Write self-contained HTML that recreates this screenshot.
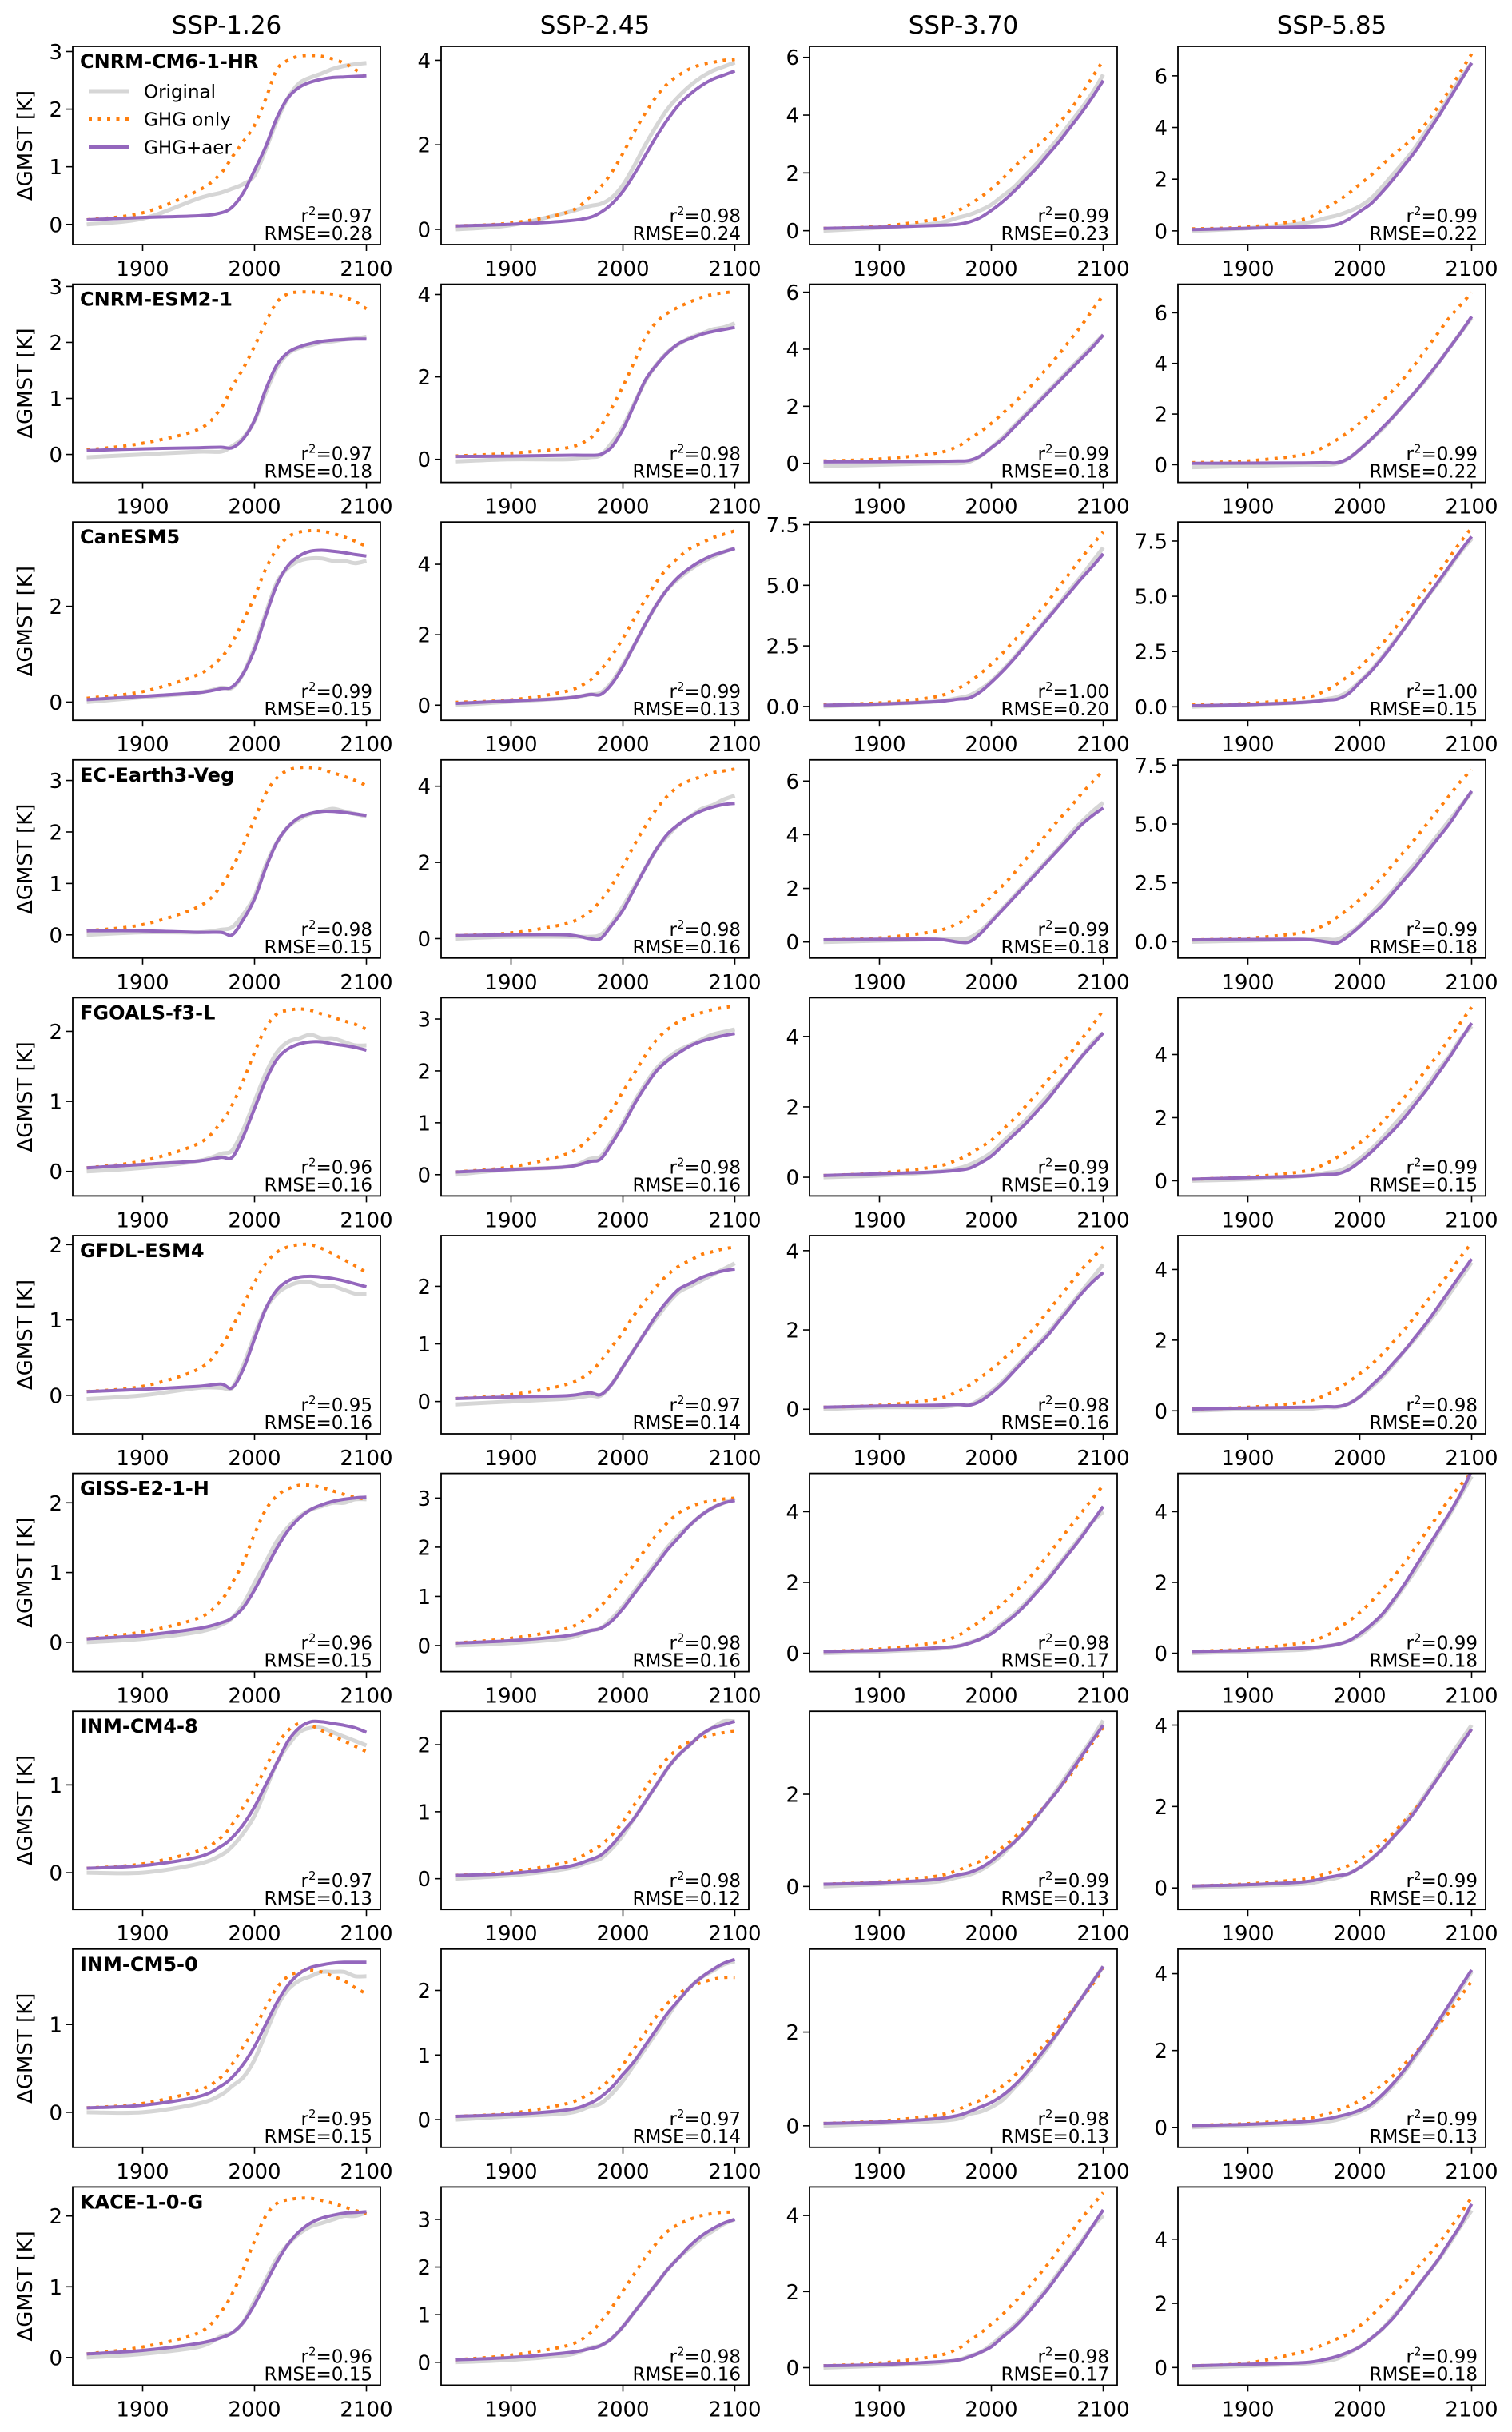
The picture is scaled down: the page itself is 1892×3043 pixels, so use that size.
<!DOCTYPE html>
<html><head><meta charset="utf-8"><title>GMST emulator panels</title>
<style>
html,body{margin:0;padding:0;background:#fff;}
svg{display:block;font-family:"DejaVu Sans","Liberation Sans",sans-serif;}
</style></head>
<body>
<svg id="chart" width="1892" height="3043" viewBox="0 0 1892 3043" xmlns="http://www.w3.org/2000/svg"></svg>
<script>
const models = ["CNRM-CM6-1-HR","CNRM-ESM2-1","CanESM5","EC-Earth3-Veg","FGOALS-f3-L","GFDL-ESM4","GISS-E2-1-H","INM-CM4-8","INM-CM5-0","KACE-1-0-G"];
const scenarios = ["SSP-1.26","SSP-2.45","SSP-3.70","SSP-5.85"];
const years = [1850,1900,1950,1970,1980,1990,2000,2010,2020,2030,2040,2050,2060,2070,2080,2090,2100];
const xTicks = [1900,2000,2100];
const yTicks = [
 ["0","1","2","3"],["0","2","4"],["0","2","4","6"],["0","2","4","6"],
 ["0","1","2","3"],["0","2","4"],["0","2","4","6"],["0","2","4","6"],
 ["0","2"],["0","2","4"],["0.0","2.5","5.0","7.5"],["0.0","2.5","5.0","7.5"],
 ["0","1","2","3"],["0","2","4"],["0","2","4","6"],["0.0","2.5","5.0","7.5"],
 ["0","1","2"],["0","1","2","3"],["0","2","4"],["0","2","4"],
 ["0","1","2"],["0","1","2"],["0","2","4"],["0","2","4"],
 ["0","1","2"],["0","1","2","3"],["0","2","4"],["0","2","4"],
 ["0","1"],["0","1","2"],["0","2"],["0","2","4"],
 ["0","1"],["0","1","2"],["0","2"],["0","2","4"],
 ["0","1","2"],["0","1","2","3"],["0","2","4"],["0","2","4"]
];
const yLims = [
 [-0.35,3.09],[-0.36,4.33],[-0.48,6.38],[-0.53,7.14],
 [-0.5,3.04],[-0.56,4.25],[-0.67,6.28],[-0.7,7.13],
 [-0.38,3.76],[-0.43,5.2],[-0.57,7.61],[-0.61,8.36],
 [-0.45,3.4],[-0.51,4.69],[-0.6,6.79],[-0.69,7.72],
 [-0.35,2.48],[-0.41,3.41],[-0.53,5.1],[-0.48,5.8],
 [-0.51,2.12],[-0.56,2.88],[-0.62,4.38],[-0.65,4.96],
 [-0.42,2.42],[-0.53,3.5],[-0.52,5.08],[-0.52,5.08],
 [-0.42,1.84],[-0.46,2.5],[-0.5,3.8],[-0.53,4.34],
 [-0.4,1.86],[-0.43,2.64],[-0.46,3.77],[-0.52,4.64],
 [-0.39,2.41],[-0.48,3.68],[-0.46,4.75],[-0.55,5.63]
];
const r2 = ["0.97","0.98","0.99","0.99","0.97","0.98","0.99","0.99","0.99","0.99","1.00","1.00","0.98","0.98","0.99","0.99","0.96","0.98","0.99","0.99","0.95","0.97","0.98","0.98","0.96","0.98","0.98","0.99","0.97","0.98","0.99","0.99","0.95","0.97","0.98","0.99","0.96","0.98","0.98","0.99"];
const rmse = ["0.28","0.24","0.23","0.22","0.18","0.17","0.18","0.22","0.15","0.13","0.20","0.15","0.15","0.16","0.18","0.18","0.16","0.16","0.19","0.15","0.16","0.14","0.16","0.20","0.15","0.16","0.17","0.18","0.13","0.12","0.13","0.12","0.15","0.14","0.13","0.13","0.15","0.16","0.17","0.18"];
const ghg = [
 [0.08,0.2,0.59,0.89,1.17,1.44,1.72,2.18,2.69,2.85,2.92,2.93,2.92,2.87,2.8,2.69,2.55],
 [0.08,0.15,0.4,0.75,1.0,1.35,1.8,2.3,2.75,3.15,3.45,3.65,3.8,3.9,3.95,4.0,4.02],
 [0.08,0.15,0.4,0.7,0.9,1.15,1.45,1.8,2.2,2.55,2.9,3.25,3.7,4.15,4.7,5.3,5.9],
 [0.08,0.15,0.45,0.9,1.15,1.45,1.8,2.15,2.55,2.95,3.3,3.7,4.2,4.8,5.45,6.15,6.85],
 [0.08,0.2,0.45,0.83,1.21,1.54,1.93,2.36,2.72,2.87,2.9,2.9,2.89,2.86,2.81,2.73,2.6],
 [0.08,0.15,0.28,0.5,0.8,1.25,1.77,2.36,2.96,3.33,3.55,3.7,3.82,3.93,4.0,4.04,4.07],
 [0.08,0.15,0.35,0.6,0.85,1.1,1.4,1.75,2.1,2.5,2.9,3.35,3.8,4.3,4.8,5.35,5.9],
 [0.08,0.15,0.4,0.75,1.0,1.3,1.65,2.05,2.5,2.95,3.45,4.0,4.6,5.2,5.8,6.3,6.8],
 [0.08,0.22,0.58,0.93,1.25,1.7,2.2,2.78,3.2,3.45,3.55,3.58,3.57,3.52,3.45,3.36,3.25],
 [0.08,0.15,0.4,0.7,1.0,1.4,1.9,2.45,3.0,3.5,3.9,4.2,4.45,4.6,4.75,4.85,4.95],
 [0.08,0.15,0.4,0.75,1.0,1.35,1.75,2.2,2.7,3.2,3.75,4.3,4.9,5.5,6.1,6.65,7.2],
 [0.08,0.15,0.4,0.75,1.05,1.4,1.8,2.3,2.85,3.45,4.1,4.75,5.4,6.05,6.75,7.45,8.1],
 [0.08,0.2,0.55,0.95,1.3,1.75,2.25,2.75,3.05,3.2,3.25,3.25,3.22,3.15,3.08,3.0,2.9],
 [0.08,0.15,0.4,0.7,1.0,1.4,1.9,2.45,2.95,3.4,3.75,4.0,4.15,4.25,4.35,4.4,4.45],
 [0.08,0.15,0.4,0.7,0.95,1.3,1.7,2.1,2.55,3.05,3.55,4.05,4.55,5.0,5.5,5.95,6.4],
 [0.08,0.15,0.4,0.75,1.05,1.4,1.8,2.25,2.75,3.3,3.85,4.4,5.0,5.6,6.2,6.8,7.3],
 [0.05,0.15,0.4,0.7,0.95,1.3,1.7,2.05,2.25,2.3,2.32,2.3,2.25,2.2,2.15,2.1,2.03],
 [0.05,0.15,0.4,0.7,0.95,1.25,1.6,1.95,2.3,2.6,2.8,2.95,3.05,3.12,3.18,3.22,3.25],
 [0.05,0.12,0.3,0.5,0.65,0.85,1.05,1.35,1.65,2.0,2.35,2.75,3.1,3.5,3.9,4.3,4.75],
 [0.05,0.12,0.3,0.55,0.75,0.95,1.2,1.5,1.85,2.25,2.65,3.1,3.55,4.0,4.5,5.0,5.5],
 [0.05,0.12,0.35,0.65,0.9,1.2,1.5,1.75,1.9,1.97,2.0,2.0,1.95,1.88,1.8,1.72,1.63],
 [0.05,0.12,0.3,0.5,0.7,0.95,1.2,1.5,1.75,2.0,2.2,2.35,2.45,2.55,2.6,2.65,2.68],
 [0.05,0.1,0.25,0.45,0.6,0.8,1.0,1.25,1.5,1.8,2.1,2.45,2.8,3.15,3.5,3.8,4.1],
 [0.05,0.1,0.25,0.45,0.62,0.82,1.05,1.3,1.6,1.95,2.3,2.7,3.1,3.5,3.9,4.35,4.75],
 [0.05,0.15,0.35,0.6,0.85,1.15,1.55,1.9,2.1,2.2,2.25,2.25,2.22,2.17,2.12,2.08,2.05],
 [0.05,0.15,0.35,0.6,0.8,1.05,1.35,1.65,1.95,2.25,2.5,2.7,2.82,2.9,2.95,2.98,3.0],
 [0.05,0.12,0.3,0.5,0.7,0.9,1.15,1.4,1.7,2.0,2.35,2.75,3.15,3.55,3.95,4.35,4.75],
 [0.05,0.12,0.3,0.5,0.7,0.9,1.15,1.45,1.8,2.15,2.55,3.0,3.45,3.9,4.35,4.75,5.1],
 [0.05,0.1,0.25,0.4,0.55,0.75,0.95,1.2,1.45,1.62,1.7,1.68,1.62,1.56,1.5,1.44,1.38],
 [0.05,0.1,0.25,0.4,0.5,0.65,0.85,1.1,1.35,1.6,1.8,1.95,2.05,2.1,2.15,2.18,2.2],
 [0.05,0.1,0.22,0.35,0.45,0.55,0.7,0.85,1.05,1.3,1.55,1.8,2.1,2.4,2.75,3.1,3.45],
 [0.05,0.1,0.22,0.35,0.45,0.55,0.7,0.9,1.1,1.35,1.65,1.95,2.3,2.7,3.1,3.5,3.9],
 [0.05,0.1,0.25,0.4,0.55,0.75,0.95,1.2,1.42,1.55,1.6,1.62,1.6,1.55,1.5,1.42,1.35],
 [0.05,0.1,0.25,0.4,0.5,0.65,0.85,1.1,1.35,1.6,1.8,1.95,2.05,2.12,2.17,2.2,2.2],
 [0.05,0.1,0.22,0.35,0.45,0.55,0.7,0.85,1.05,1.3,1.55,1.8,2.1,2.4,2.7,3.0,3.35],
 [0.05,0.1,0.22,0.35,0.45,0.55,0.7,0.9,1.1,1.35,1.65,1.95,2.3,2.65,3.0,3.4,3.8],
 [0.05,0.15,0.35,0.65,0.9,1.25,1.65,2.0,2.18,2.23,2.25,2.25,2.22,2.18,2.13,2.08,2.03],
 [0.05,0.15,0.35,0.6,0.85,1.15,1.5,1.85,2.2,2.5,2.75,2.9,3.0,3.08,3.12,3.15,3.15],
 [0.05,0.12,0.3,0.5,0.7,0.9,1.15,1.4,1.7,2.0,2.35,2.7,3.1,3.5,3.9,4.25,4.6],
 [0.05,0.14,0.5,0.75,0.9,1.05,1.3,1.6,1.95,2.3,2.65,3.05,3.45,3.85,4.3,4.8,5.3]
];
const aer = [
 [0.08,0.12,0.15,0.2,0.3,0.55,0.94,1.35,1.85,2.2,2.38,2.47,2.52,2.55,2.56,2.57,2.58],
 [0.08,0.12,0.2,0.28,0.4,0.6,0.9,1.3,1.75,2.2,2.6,2.95,3.2,3.4,3.55,3.65,3.75],
 [0.08,0.12,0.18,0.22,0.3,0.45,0.7,1.0,1.35,1.75,2.15,2.6,3.05,3.55,4.05,4.6,5.2],
 [0.05,0.1,0.15,0.18,0.25,0.45,0.75,1.05,1.5,2.0,2.55,3.1,3.75,4.4,5.1,5.8,6.5],
 [0.07,0.1,0.12,0.13,0.12,0.28,0.61,1.16,1.6,1.82,1.92,1.98,2.02,2.04,2.05,2.06,2.06],
 [0.07,0.08,0.1,0.1,0.12,0.3,0.73,1.32,1.92,2.29,2.59,2.81,2.93,3.03,3.1,3.15,3.2],
 [0.05,0.06,0.07,0.08,0.1,0.25,0.55,0.85,1.25,1.65,2.05,2.45,2.85,3.25,3.65,4.05,4.5],
 [0.05,0.06,0.07,0.08,0.08,0.25,0.6,1.0,1.45,1.9,2.4,2.9,3.45,4.0,4.6,5.2,5.85],
 [0.05,0.12,0.2,0.28,0.32,0.6,1.1,1.8,2.45,2.85,3.05,3.15,3.17,3.15,3.12,3.08,3.05],
 [0.05,0.12,0.2,0.3,0.3,0.6,1.1,1.7,2.3,2.85,3.3,3.65,3.9,4.1,4.25,4.35,4.45],
 [0.05,0.1,0.2,0.3,0.35,0.6,1.0,1.45,1.95,2.5,3.05,3.6,4.15,4.7,5.25,5.75,6.3],
 [0.05,0.1,0.2,0.3,0.35,0.6,1.1,1.6,2.2,2.85,3.55,4.25,4.95,5.65,6.35,7.05,7.7],
 [0.08,0.08,0.05,0.05,0.0,0.3,0.7,1.3,1.8,2.1,2.28,2.36,2.4,2.4,2.38,2.35,2.32],
 [0.08,0.1,0.1,0.0,0.0,0.35,0.75,1.3,1.85,2.35,2.75,3.0,3.2,3.35,3.45,3.52,3.55],
 [0.08,0.1,0.1,0.0,0.0,0.3,0.75,1.2,1.65,2.1,2.55,3.0,3.45,3.9,4.35,4.7,5.0],
 [0.08,0.1,0.1,0.0,-0.05,0.25,0.65,1.1,1.55,2.1,2.65,3.2,3.8,4.4,5.0,5.7,6.4],
 [0.05,0.1,0.15,0.2,0.2,0.5,0.9,1.3,1.6,1.75,1.82,1.85,1.85,1.82,1.8,1.77,1.73],
 [0.05,0.1,0.15,0.25,0.3,0.6,0.95,1.35,1.7,2.0,2.2,2.35,2.48,2.57,2.63,2.68,2.72],
 [0.05,0.1,0.15,0.2,0.25,0.4,0.6,0.9,1.2,1.5,1.85,2.2,2.6,3.0,3.4,3.75,4.1],
 [0.05,0.1,0.15,0.2,0.22,0.35,0.6,0.9,1.25,1.6,2.0,2.45,2.9,3.4,3.9,4.45,5.0],
 [0.05,0.08,0.12,0.15,0.1,0.35,0.75,1.15,1.4,1.52,1.57,1.58,1.57,1.55,1.52,1.48,1.44],
 [0.05,0.08,0.1,0.15,0.12,0.3,0.6,0.9,1.2,1.5,1.75,1.95,2.05,2.15,2.22,2.27,2.3],
 [0.05,0.08,0.1,0.12,0.1,0.2,0.4,0.65,0.95,1.25,1.55,1.85,2.2,2.55,2.9,3.2,3.45],
 [0.05,0.08,0.1,0.12,0.12,0.2,0.4,0.7,1.0,1.35,1.7,2.1,2.5,2.95,3.4,3.85,4.3],
 [0.05,0.1,0.2,0.28,0.35,0.5,0.75,1.05,1.35,1.6,1.78,1.9,1.97,2.02,2.05,2.07,2.08],
 [0.05,0.1,0.2,0.3,0.35,0.5,0.75,1.05,1.35,1.65,1.95,2.2,2.45,2.65,2.8,2.9,2.95],
 [0.05,0.08,0.15,0.2,0.28,0.4,0.55,0.8,1.05,1.35,1.7,2.05,2.45,2.85,3.25,3.7,4.15],
 [0.05,0.08,0.15,0.2,0.25,0.35,0.55,0.8,1.1,1.5,1.95,2.45,2.95,3.45,3.95,4.5,5.15],
 [0.05,0.08,0.18,0.3,0.4,0.55,0.75,1.0,1.25,1.5,1.65,1.72,1.72,1.7,1.68,1.65,1.6],
 [0.05,0.08,0.18,0.28,0.35,0.5,0.7,0.9,1.15,1.4,1.65,1.85,2.0,2.15,2.25,2.3,2.35],
 [0.05,0.08,0.15,0.25,0.3,0.4,0.55,0.75,0.95,1.2,1.5,1.8,2.1,2.45,2.8,3.15,3.5],
 [0.05,0.08,0.15,0.25,0.3,0.35,0.5,0.7,0.95,1.25,1.55,1.9,2.3,2.7,3.1,3.5,3.9],
 [0.05,0.08,0.18,0.3,0.4,0.55,0.75,1.0,1.25,1.45,1.58,1.65,1.68,1.7,1.71,1.71,1.71],
 [0.05,0.08,0.15,0.25,0.35,0.5,0.7,0.9,1.15,1.4,1.65,1.85,2.05,2.2,2.32,2.42,2.48],
 [0.05,0.08,0.15,0.22,0.3,0.4,0.5,0.65,0.85,1.1,1.4,1.7,2.0,2.35,2.7,3.05,3.4],
 [0.05,0.08,0.15,0.22,0.28,0.35,0.45,0.6,0.85,1.15,1.5,1.9,2.3,2.75,3.2,3.65,4.1],
 [0.05,0.1,0.2,0.28,0.35,0.5,0.75,1.05,1.35,1.6,1.78,1.9,1.97,2.01,2.04,2.05,2.06],
 [0.05,0.1,0.2,0.28,0.35,0.5,0.75,1.05,1.35,1.65,1.95,2.2,2.45,2.65,2.8,2.92,3.0],
 [0.05,0.08,0.15,0.2,0.28,0.4,0.55,0.8,1.05,1.35,1.7,2.05,2.45,2.85,3.25,3.7,4.15],
 [0.05,0.1,0.15,0.26,0.35,0.48,0.64,0.9,1.2,1.55,2.0,2.45,2.9,3.36,3.9,4.44,5.1]
];
const orig = [
 [0.0,0.1,0.45,0.55,0.62,0.7,0.85,1.3,1.8,2.2,2.45,2.55,2.62,2.7,2.75,2.78,2.8],
 [0.0,0.1,0.4,0.55,0.6,0.75,1.05,1.5,2.0,2.45,2.85,3.15,3.4,3.6,3.75,3.85,3.95],
 [0.0,0.1,0.25,0.45,0.55,0.7,0.9,1.2,1.5,1.9,2.3,2.75,3.2,3.7,4.2,4.75,5.4],
 [0.0,0.1,0.3,0.5,0.6,0.75,0.95,1.25,1.7,2.2,2.7,3.25,3.9,4.5,5.2,5.9,6.5],
 [-0.05,0.0,0.05,0.05,0.15,0.3,0.6,1.1,1.55,1.8,1.9,1.95,2.0,2.02,2.05,2.07,2.1],
 [-0.05,0.0,0.0,0.05,0.1,0.4,0.8,1.35,1.9,2.3,2.6,2.8,2.95,3.05,3.15,3.2,3.3],
 [-0.1,-0.05,0.0,0.0,0.05,0.25,0.55,0.9,1.3,1.7,2.1,2.5,2.9,3.3,3.7,4.1,4.5],
 [-0.1,-0.05,0.0,0.0,0.05,0.25,0.6,1.0,1.4,1.9,2.4,2.9,3.4,4.0,4.6,5.2,5.8],
 [0.0,0.1,0.2,0.3,0.3,0.6,1.15,1.85,2.5,2.8,2.95,3.0,3.0,2.95,2.95,2.9,2.95],
 [0.0,0.1,0.2,0.3,0.35,0.65,1.15,1.7,2.3,2.85,3.3,3.6,3.85,4.05,4.2,4.35,4.45],
 [0.0,0.1,0.2,0.35,0.45,0.7,1.05,1.5,2.0,2.55,3.1,3.65,4.2,4.8,5.35,5.95,6.55],
 [0.0,0.1,0.2,0.35,0.45,0.7,1.15,1.65,2.25,2.9,3.55,4.25,4.95,5.6,6.3,7.0,7.6],
 [0.0,0.05,0.05,0.1,0.15,0.4,0.75,1.35,1.8,2.1,2.25,2.35,2.4,2.45,2.4,2.35,2.3],
 [0.0,0.05,0.05,0.05,0.1,0.4,0.85,1.35,1.85,2.35,2.7,3.0,3.2,3.4,3.5,3.65,3.75],
 [0.0,0.05,0.1,0.1,0.15,0.4,0.8,1.25,1.7,2.15,2.6,3.05,3.5,4.0,4.45,4.85,5.2],
 [0.0,0.05,0.1,0.1,0.1,0.35,0.7,1.2,1.7,2.2,2.8,3.35,3.95,4.55,5.15,5.75,6.35],
 [0.0,0.05,0.15,0.25,0.3,0.6,1.0,1.4,1.7,1.85,1.9,1.95,1.9,1.9,1.85,1.8,1.8],
 [0.0,0.1,0.15,0.3,0.35,0.65,1.0,1.4,1.75,2.05,2.25,2.4,2.5,2.6,2.7,2.75,2.8],
 [0.0,0.05,0.15,0.25,0.35,0.5,0.7,1.0,1.3,1.6,1.95,2.3,2.65,3.0,3.4,3.8,4.1],
 [0.0,0.05,0.15,0.25,0.3,0.45,0.7,1.0,1.35,1.75,2.15,2.55,3.0,3.5,3.95,4.5,4.9],
 [-0.05,0.0,0.1,0.1,0.1,0.4,0.8,1.15,1.35,1.45,1.5,1.5,1.45,1.45,1.4,1.35,1.35],
 [-0.05,0.0,0.05,0.1,0.1,0.3,0.6,0.9,1.2,1.45,1.7,1.9,2.0,2.1,2.2,2.3,2.4],
 [0.0,0.05,0.05,0.1,0.1,0.25,0.45,0.7,1.0,1.3,1.6,1.9,2.25,2.6,2.95,3.3,3.65],
 [0.0,0.05,0.05,0.1,0.1,0.2,0.4,0.65,0.95,1.3,1.7,2.05,2.45,2.85,3.3,3.75,4.2],
 [0.0,0.05,0.15,0.25,0.35,0.55,0.85,1.15,1.45,1.65,1.8,1.9,1.95,2.0,2.0,2.05,2.05],
 [0.0,0.05,0.15,0.3,0.35,0.55,0.8,1.1,1.4,1.7,2.0,2.25,2.45,2.65,2.8,2.9,3.0],
 [0.0,0.05,0.12,0.2,0.3,0.4,0.6,0.85,1.1,1.4,1.75,2.1,2.5,2.9,3.3,3.7,4.0],
 [0.0,0.05,0.1,0.2,0.25,0.35,0.5,0.75,1.05,1.45,1.9,2.35,2.85,3.4,3.9,4.45,5.0],
 [0.0,0.0,0.1,0.2,0.3,0.45,0.65,0.95,1.25,1.45,1.6,1.65,1.65,1.6,1.55,1.5,1.45],
 [0.0,0.05,0.15,0.25,0.3,0.45,0.65,0.9,1.15,1.4,1.65,1.85,2.0,2.15,2.25,2.35,2.35],
 [0.0,0.05,0.1,0.2,0.25,0.35,0.5,0.7,0.95,1.2,1.5,1.8,2.15,2.5,2.85,3.2,3.6],
 [0.0,0.05,0.1,0.2,0.25,0.35,0.5,0.7,0.95,1.25,1.6,1.95,2.35,2.75,3.2,3.6,4.0],
 [0.0,0.0,0.1,0.2,0.3,0.4,0.6,0.9,1.2,1.4,1.5,1.55,1.6,1.6,1.6,1.55,1.55],
 [0.0,0.05,0.1,0.2,0.25,0.4,0.6,0.85,1.1,1.35,1.6,1.85,2.05,2.2,2.3,2.4,2.45],
 [0.0,0.05,0.1,0.15,0.25,0.3,0.4,0.55,0.8,1.05,1.35,1.65,2.0,2.35,2.7,3.05,3.4],
 [0.0,0.05,0.1,0.15,0.2,0.3,0.4,0.55,0.8,1.1,1.45,1.85,2.25,2.7,3.15,3.6,4.05],
 [0.0,0.05,0.15,0.3,0.35,0.5,0.8,1.1,1.4,1.6,1.75,1.85,1.9,1.95,2.0,2.0,2.05],
 [0.0,0.05,0.15,0.3,0.35,0.5,0.75,1.05,1.35,1.65,1.95,2.2,2.4,2.6,2.75,2.9,3.0],
 [0.0,0.05,0.12,0.2,0.3,0.4,0.6,0.85,1.1,1.4,1.75,2.1,2.5,2.9,3.3,3.7,4.0],
 [0.0,0.05,0.12,0.2,0.28,0.45,0.65,0.9,1.2,1.6,2.0,2.45,2.9,3.35,3.85,4.4,4.9]
];

const NS = "http://www.w3.org/2000/svg";
const svg = document.getElementById("chart");
const PL = 91, PW = 385, PH = 248, PT = 58, COLP = 461, ROWP = 297.6;
const X0 = 1837.5, X1 = 2112.5;

function mk(tag, attrs, parent) {
  const e = document.createElementNS(NS, tag);
  for (const k in attrs) e.setAttribute(k, attrs[k]);
  (parent || svg).appendChild(e);
  return e;
}
function xScale(year, c) { return PL + c * COLP + (year - X0) / (X1 - X0) * PW; }
function yScale(v, r, lim) { const top = PT + r * ROWP; return top + PH - (v - lim[0]) / (lim[1] - lim[0]) * PH; }
function smoothPath(pts) {
  let d = "M" + pts[0][0].toFixed(1) + "," + pts[0][1].toFixed(1);
  const n = pts.length;
  for (let i = 0; i < n - 1; i++) {
    const p0 = pts[Math.max(i - 1, 0)], p1 = pts[i], p2 = pts[i + 1], p3 = pts[Math.min(i + 2, n - 1)];
    const c1x = p1[0] + (p2[0] - p0[0]) / 6, c1y = p1[1] + (p2[1] - p0[1]) / 6;
    const c2x = p2[0] - (p3[0] - p1[0]) / 6, c2y = p2[1] - (p3[1] - p1[1]) / 6;
    d += " C" + c1x.toFixed(1) + "," + c1y.toFixed(1) + " " + c2x.toFixed(1) + "," + c2y.toFixed(1) + " " + p2[0].toFixed(1) + "," + p2[1].toFixed(1);
  }
  return d;
}

// column titles
scenarios.forEach((s, c) => {
  const t = mk("text", { x: PL + c * COLP + PW / 2, y: 42, "text-anchor": "middle", "font-size": 31, fill: "#000" });
  
  
  t.textContent = s;
});

for (let r = 0; r < 10; r++) {
  const top = PT + r * ROWP;
  // y-axis label
  const yl = mk("text", { x: 0, y: 0, transform: "translate(40," + (top + PH / 2) + ") rotate(-90)", "text-anchor": "middle", "font-size": 26, fill: "#000" });
  
  
  yl.textContent = "ΔGMST [K]";

  for (let c = 0; c < 4; c++) {
    const i = r * 4 + c;
    const lim = yLims[i];
    const left = PL + c * COLP;
    const g = mk("g", {});
    
    
    const clipId = "clip" + i;
    const cp = mk("clipPath", { id: clipId }, g);
    mk("rect", { x: left, y: top, width: PW, height: PH }, cp);

    const mkPts = arr => years.map((yr, k) => [xScale(yr, c), yScale(arr[k], r, lim)]);
    const po = mk("path", { d: smoothPath(mkPts(orig[i])), fill: "none", stroke: "#d6d6d6", "stroke-width": 5, "stroke-linejoin": "round", "clip-path": "url(#" + clipId + ")" }, g);
    
    
    const pg = mk("path", { d: smoothPath(mkPts(ghg[i])), fill: "none", stroke: "#ff7f0e", "stroke-width": 4, "stroke-dasharray": "4 7.5", "clip-path": "url(#" + clipId + ")" }, g);
    
    
    const pa = mk("path", { d: smoothPath(mkPts(aer[i])), fill: "none", stroke: "#9467bd", "stroke-width": 4, "clip-path": "url(#" + clipId + ")" }, g);
    
    

    const fr = mk("rect", { x: left, y: top, width: PW, height: PH, fill: "none", stroke: "#000", "stroke-width": 1.8 }, g);
    
    

    // x ticks
    xTicks.forEach(yr => {
      const x = xScale(yr, c);
      mk("line", { x1: x, x2: x, y1: top + PH, y2: top + PH + 8, stroke: "#000", "stroke-width": 1.6 }, g);
      const t = mk("text", { x: x, y: top + PH + 39, "text-anchor": "middle", "font-size": 26, fill: "#000" }, g);
      
      
      t.textContent = yr;
    });
    // y ticks
    yTicks[i].forEach(lbl => {
      const y = yScale(parseFloat(lbl), r, lim);
      mk("line", { x1: left - 8, x2: left, y1: y, y2: y, stroke: "#000", "stroke-width": 1.6 }, g);
      const t = mk("text", { x: left - 13, y: y + 9.5, "text-anchor": "end", "font-size": 26, fill: "#000" }, g);
      
      
      t.textContent = lbl;
    });
    // stats text
    const st = mk("text", { x: left + PW - 10, y: top + PH - 28, "text-anchor": "end", "font-size": 23, fill: "#000" }, g);
    
    
    const t1 = mk("tspan", {}, st); t1.textContent = "r";
    const t2 = mk("tspan", { dy: -9, "font-size": 15 }, st); t2.textContent = "2";
    const t3 = mk("tspan", { dy: 9 }, st); t3.textContent = "=" + r2[i];
    const rm = mk("text", { x: left + PW - 10, y: top + PH - 6, "text-anchor": "end", "font-size": 23, fill: "#000" }, g);
    
    
    rm.textContent = "RMSE=" + rmse[i];

    if (c === 0) {
      const nm = mk("text", { x: left + 9, y: top + 27, "font-size": 24, "font-weight": "bold", fill: "#000" }, g);
      
      
      nm.textContent = models[r];
    }
    if (i === 0) {
      const lg = mk("g", {}, g);
      
      
      const entries = [["Original", "#d6d6d6", null, 5], ["GHG only", "#ff7f0e", "4 7.5", 4], ["GHG+aer", "#9467bd", null, 4]];
      entries.forEach((e, k) => {
        const yy = top + 56 + k * 35;
        const ln = mk("line", { x1: left + 20, x2: left + 70, y1: yy, y2: yy, stroke: e[1], "stroke-width": e[3] }, lg);
        if (e[2]) ln.setAttribute("stroke-dasharray", e[2]);
        
        
        const lt = mk("text", { x: left + 89, y: yy + 8.5, "font-size": 23, fill: "#000" }, lg);
        
        
        lt.textContent = e[0];
      });
    }
  }
}
</script>
</body></html>
